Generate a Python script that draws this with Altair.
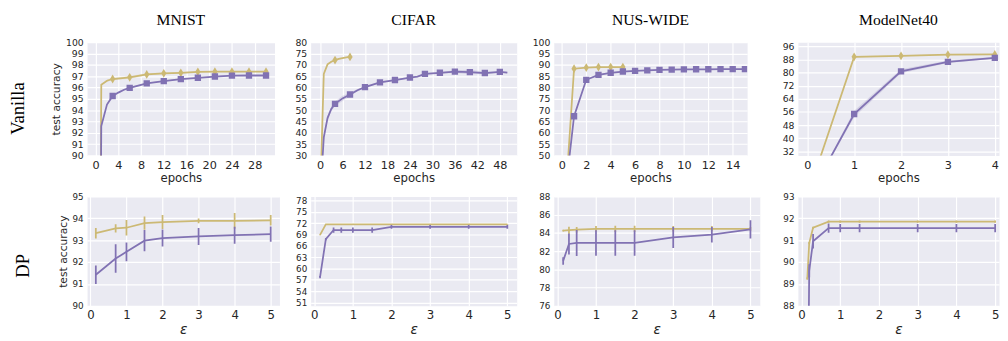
import altair as alt
import pandas as pd

# ---------------- Vanilla row: test accuracy vs epochs ----------------
mnist_gold_ep = [0, 1, 2, 3, 6, 9, 12, 15, 18, 21, 24, 27, 30]
mnist_gold_acc = [10.0, 96.25, 96.6, 96.75, 96.9, 97.15, 97.25, 97.3, 97.38, 97.4, 97.4, 97.4, 97.4]
mnist_gold_sd = [0.0, 0.05, 0.1, 0.12, 0.12, 0.1, 0.08, 0.06, 0.05, 0.05, 0.05, 0.05, 0.05]
mnist_purple_ep = [0, 1, 2, 3, 4, 5, 6, 9, 12, 15, 18, 21, 24, 27, 30]
mnist_purple_acc = [10.0, 92.6, 94.5, 95.25, 95.55, 95.8, 95.96, 96.37, 96.57, 96.74, 96.86, 96.97, 97.05, 97.06, 97.06]
mnist_purple_sd = [0.0, 0.1, 0.08, 0.06, 0.05, 0.05, 0.05, 0.05, 0.05, 0.05, 0.05, 0.05, 0.05, 0.05, 0.05]
mnist_marks = [3, 6, 9, 12, 15, 18, 21, 24, 27, 30]

cifar_gold_ep = [0, 1, 2, 3, 4, 5, 6, 7, 8]
cifar_gold_acc = [10.0, 66.0, 70.2, 71.4, 72.1, 72.6, 73.0, 73.3, 73.5]
cifar_gold_sd = [0.0, 0.3, 0.3, 0.3, 0.3, 0.25, 0.2, 0.2, 0.2]
cifar_gold_marks = [4, 8]
cifar_purple_ep = [0, 1, 2, 3, 4, 6, 8, 10, 12, 16, 20, 24, 26, 28, 32, 36, 40, 44, 48, 50]
cifar_purple_acc = [10.0, 38.0, 46.5, 50.5, 52.8, 55.2, 56.9, 58.8, 60.2, 62.3, 63.3, 64.4, 64.8,
                    66.0, 66.5, 67.0, 66.8, 66.4, 66.9, 66.6]
cifar_purple_sd = [0.0, 1.5, 1.2, 1.0, 1.0, 1.2, 0.8, 0.5, 0.4, 0.3, 0.3, 0.3, 0.3, 0.3, 0.3,
                   0.6, 1.0, 0.5, 0.3, 0.3]
cifar_purple_marks = [4, 8, 12, 16, 20, 24, 28, 32, 36, 40, 44, 48]

nus_gold_ep = [0, 1, 2, 3, 4, 5]
nus_gold_acc = [7.0, 88.3, 88.8, 89.0, 89.0, 89.0]
nus_gold_sd = [0.0, 0.2, 0.2, 0.2, 0.2, 0.2]
nus_purple_ep = list(range(16))
nus_purple_acc = [20.0, 67.3, 83.4, 85.6, 86.5, 87.05, 87.35, 87.6, 87.8, 87.9, 88.0, 88.05, 88.05,
                  88.1, 88.1, 88.1]
nus_purple_sd = [0.0, 0.5, 0.3, 0.2, 0.2, 0.2, 0.15, 0.15, 0.15, 0.15, 0.15, 0.15, 0.15, 0.15, 0.15, 0.15]
nus_gold_marks = [1, 2, 3, 4, 5]
nus_purple_marks = list(range(1, 16))

mn_gold_ep = [0, 1, 2, 3, 4]
mn_gold_acc = [5.0, 89.5, 90.1, 90.8, 91.0]
mn_gold_sd = [0.0, 0.4, 0.3, 0.3, 0.3]
mn_purple_ep = [0, 1, 2, 3, 4]
mn_purple_acc = [2.5, 54.8, 80.7, 86.5, 88.9]
mn_purple_sd = [0.0, 2.0, 1.2, 0.8, 0.6]
mn_marks = [1, 2, 3, 4]

# ---------------- DP row: test accuracy vs epsilon ----------------
dp_mnist_eps = [0.15, 0.7, 1, 1.5, 2, 3, 4, 5]
dp_mnist_gold = [93.32, 93.54, 93.57, 93.78, 93.83, 93.88, 93.88, 93.91]
dp_mnist_gold_err = [0.24, 0.19, 0.35, 0.3, 0.32, 0.11, 0.36, 0.24]
dp_mnist_purple = [91.42, 92.16, 92.47, 92.98, 93.1, 93.17, 93.23, 93.28]
dp_mnist_purple_err = [0.42, 0.65, 0.43, 0.49, 0.39, 0.39, 0.39, 0.35]

dp_cifar_eps = [0.15, 0.3, 0.5, 0.7, 1, 1.5, 2, 3, 4, 5]
dp_cifar_gold = [68.9, 71.7, 71.7, 71.7, 71.7, 71.7, 71.7, 71.7, 71.7, 71.7]
dp_cifar_gold_err = [0.1, 0.1, 0.1, 0.1, 0.1, 0.1, 0.1, 0.1, 0.1, 0.1]
dp_cifar_purple = [57.7, 67.8, 70.2, 70.2, 70.2, 70.2, 71.05, 71.05, 71.05, 71.05]
dp_cifar_purple_err = [0.3, 0.3, 0.7, 0.7, 0.7, 0.7, 0.5, 0.5, 0.5, 0.5]

dp_nus_eps = [0.15, 0.3, 0.5, 1, 1.5, 2, 3, 4, 5]
dp_nus_gold = [84.25, 84.3, 84.35, 84.45, 84.45, 84.45, 84.45, 84.45, 84.45]
dp_nus_gold_err = [0.1, 0.38, 0.3, 0.3, 0.35, 0.35, 0.3, 0.3, 0.2]
dp_nus_purple = [80.93, 82.79, 82.9, 82.9, 82.9, 82.9, 83.5, 83.8, 84.4]
dp_nus_purple_err = [0.41, 1.16, 1.43, 1.4, 1.4, 1.4, 1.16, 0.84, 1.0]

dp_mn_eps = [0.15, 0.2, 0.3, 0.7, 1, 1.5, 3, 4, 5]
dp_mn_gold = [89.24, 90.87, 91.57, 91.85, 91.85, 91.85, 91.85, 91.85, 91.85]
dp_mn_gold_err = [0.05, 0.05, 0.05, 0.05, 0.05, 0.05, 0.05, 0.05, 0.05]
dp_mn_purple = [80.0, 89.6, 90.95, 91.55, 91.55, 91.55, 91.55, 91.55, 91.55]
dp_mn_purple_err = [0.3, 0.3, 0.33, 0.21, 0.19, 0.19, 0.19, 0.19, 0.19]

# ---------------- style ----------------
PURPLE = "#8172B3"
GOLD = "#CCB974"
BG = "#EAEAF2"
TXT = "#262626"
THIN_DIAMOND = "M0,-1L0.6,0L0,1L-0.6,0Z"


def make_axis(ticks, title, lab_size, title_size, title_style, title_pad):
    return alt.Axis(values=ticks, title=title, grid=True, gridColor="white", gridWidth=1.2,
                    gridOpacity=1, domain=False, ticks=False, tickSize=0,
                    labelFont="DejaVu Sans", labelFontSize=lab_size, labelColor=TXT,
                    labelPadding=4, labelFlush=False, labelOverlap=False,
                    titleFont="DejaVu Sans", titleFontSize=title_size, titleFontWeight="normal",
                    titleFontStyle=title_style, titleColor=TXT, titlePadding=title_pad)


def series(x, y, spread, color, kind, marks=None, shape=None, size=None):
    return dict(x=x, y=y, spread=spread, color=color, kind=kind, marks=marks, shape=shape, size=size)


def panel(sers, xdom, xticks, ydom, yticks, w, h, xtitle, ytitle, xlab, ylab, xt_style, xt_size,
          top_title=None, row_label=None, row_dx=0, row_dy=0):
    xax = make_axis(xticks, xtitle, xlab, xt_size, xt_style, 2)
    yax = make_axis(yticks, ytitle, ylab, 11, "normal", 4)
    xs = alt.Scale(domain=xdom, nice=False, zero=False)
    ys = alt.Scale(domain=ydom, nice=False, zero=False)
    layers = []
    for s in sers:
        df = pd.DataFrame({"x": s["x"], "y": s["y"], "sp": s["spread"]})
        df["lo"] = df["y"] - df["sp"]
        df["hi"] = df["y"] + df["sp"]
        X = alt.X("x:Q", scale=xs, axis=xax)
        if s["kind"] == "band":
            layers.append(alt.Chart(df).mark_area(color=s["color"], opacity=0.2, clip=True).encode(
                x=X, y=alt.Y("lo:Q", scale=ys, axis=yax), y2=alt.Y2("hi:Q")))
        layers.append(alt.Chart(df).mark_line(color=s["color"], strokeWidth=1.8, clip=True).encode(
            x=X, y=alt.Y("y:Q", scale=ys, axis=yax)))
        if s["kind"] == "err":
            layers.append(alt.Chart(df).mark_rule(color=s["color"], strokeWidth=1.8, clip=True).encode(
                x=X, y=alt.Y("lo:Q", scale=ys, axis=yax), y2=alt.Y2("hi:Q")))
        if s["marks"]:
            dm = df[df["x"].isin(s["marks"])]
            layers.append(alt.Chart(dm).mark_point(shape=s["shape"], size=s["size"], filled=True,
                                                   opacity=1, color=s["color"], clip=True).encode(
                x=X, y=alt.Y("y:Q", scale=ys, axis=yax)))
    if top_title:
        layers.append(alt.Chart(pd.DataFrame({"t": [top_title]})).mark_text(
            font="Liberation Serif", fontSize=16, color="black", align="center",
            baseline="top").encode(text="t:N", x=alt.value(w / 2), y=alt.value(-30.5)))
    if row_label:
        layers.append(alt.Chart(pd.DataFrame({"t": [row_label]})).mark_text(
            font="Liberation Serif", fontSize=19, color="black", align="center",
            baseline="middle", angle=270).encode(text="t:N", x=alt.value(row_dx), y=alt.value(row_dy)))
    return alt.layer(*layers).properties(width=w, height=h,
                                         view=alt.ViewBackground(fill=BG, stroke="transparent"))


def spacer(w):
    return alt.Chart(pd.DataFrame({"v": [0]})).mark_point(opacity=0, size=1).encode(
        x=alt.X("v:Q", axis=None), y=alt.Y("v:Q", axis=None)).properties(width=w, height=1)


TOP_H, BOT_H = 116, 112
ep_args = dict(xtitle="epochs", xlab=11.5, ylab=9.5, xt_style="normal", xt_size=12)
eps_args = dict(xtitle="ε", xlab=12, ylab=9, xt_style="italic", xt_size=14)
DSZ, SSZ = 81, 42

top_mnist = panel([
    series(mnist_gold_ep, mnist_gold_acc, mnist_gold_sd, GOLD, "band", mnist_marks, THIN_DIAMOND, DSZ),
    series(mnist_purple_ep, mnist_purple_acc, mnist_purple_sd, PURPLE, "band", mnist_marks, "square", SSZ),
], [-1.5, 31.5], list(range(0, 29, 4)), [90, 100], list(range(90, 101)), 192, TOP_H,
    ytitle="test accuracy", top_title="MNIST", row_label="Vanilla", row_dx=-71, row_dy=68, **ep_args)

top_cifar = panel([
    series(cifar_gold_ep, cifar_gold_acc, cifar_gold_sd, GOLD, "band", cifar_gold_marks, THIN_DIAMOND, DSZ),
    series(cifar_purple_ep, cifar_purple_acc, cifar_purple_sd, PURPLE, "band", cifar_purple_marks, "square", SSZ),
], [-2.5, 52.5], list(range(0, 49, 6)), [30, 80], list(range(30, 81, 5)), 211, TOP_H,
    ytitle="", top_title="CIFAR", **ep_args)

top_nus = panel([
    series(nus_gold_ep, nus_gold_acc, nus_gold_sd, GOLD, "band", nus_gold_marks, THIN_DIAMOND, DSZ),
    series(nus_purple_ep, nus_purple_acc, nus_purple_sd, PURPLE, "band", nus_purple_marks, "square", SSZ),
], [-0.66, 15.18], list(range(0, 15, 2)), [50, 100], list(range(50, 101, 5)), 198, TOP_H,
    ytitle="", top_title="NUS-WIDE", **ep_args)

top_mn = panel([
    series(mn_gold_ep, mn_gold_acc, mn_gold_sd, GOLD, "band", mn_marks, THIN_DIAMOND, DSZ),
    series(mn_purple_ep, mn_purple_acc, mn_purple_sd, PURPLE, "band", mn_marks, "square", SSZ),
], [-0.2, 4.09], [0, 1, 2, 3, 4], [29.6, 98.4], list(range(32, 97, 8)), 206, TOP_H,
    ytitle="", top_title="ModelNet40", **ep_args)

EPS_DOM = [-0.0925, 5.2425]
bot_mnist = panel([
    series(dp_mnist_eps, dp_mnist_gold, dp_mnist_gold_err, GOLD, "err"),
    series(dp_mnist_eps, dp_mnist_purple, dp_mnist_purple_err, PURPLE, "err"),
], EPS_DOM, [0, 1, 2, 3, 4, 5], [90, 95], [90, 91, 92, 93, 94, 95], 197, BOT_H,
    ytitle="test accuracy", row_label="DP", row_dx=-66, row_dy=71, **eps_args)

bot_cifar = panel([
    series(dp_cifar_eps, dp_cifar_gold, dp_cifar_gold_err, GOLD, "err"),
    series(dp_cifar_eps, dp_cifar_purple, dp_cifar_purple_err, PURPLE, "err"),
], EPS_DOM, [0, 1, 2, 3, 4, 5], [50.1, 79.1], list(range(51, 79, 3)), 211, BOT_H,
    ytitle="", **eps_args)

bot_nus = panel([
    series(dp_nus_eps, dp_nus_gold, dp_nus_gold_err, GOLD, "err"),
    series(dp_nus_eps, dp_nus_purple, dp_nus_purple_err, PURPLE, "err"),
], EPS_DOM, [0, 1, 2, 3, 4, 5], [76, 88], list(range(76, 89, 2)), 211, BOT_H,
    ytitle="", **eps_args)

bot_mn = panel([
    series(dp_mn_eps, dp_mn_gold, dp_mn_gold_err, GOLD, "err"),
    series(dp_mn_eps, dp_mn_purple, dp_mn_purple_err, PURPLE, "err"),
], [-0.0925, 5.1], [0, 1, 2, 3, 4, 5], [88, 93], [88, 89, 90, 91, 92, 93], 206, BOT_H,
    ytitle="", **eps_args)

cells = [spacer(6), top_mnist, spacer(32), top_cifar, spacer(38), top_nus, spacer(39), top_mn,
         spacer(1), bot_mnist, spacer(32), bot_cifar, spacer(32), bot_nus, spacer(32), bot_mn]

chart = alt.concat(*cells, columns=8, spacing={"row": 42, "column": 0}, bounds="flush",
                   align="none").properties(padding=0, background="white").configure_view(
    stroke="transparent")

chart.save("out.html", embed_options={"renderer": "svg", "actions": False})
